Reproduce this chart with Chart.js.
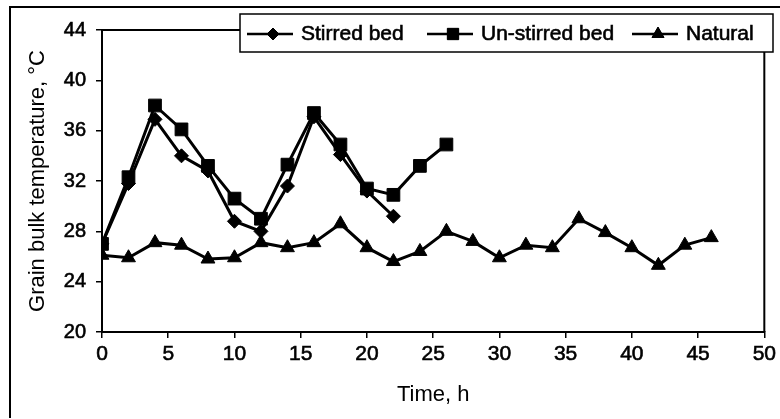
<!DOCTYPE html>
<html>
<head>
<meta charset="utf-8">
<script src="https://cdn.jsdelivr.net/npm/chart.js@4/dist/chart.umd.min.js"></script>
<style>
  html, body { margin: 0; padding: 0; background: #fff; }
  #wrap { width: 780px; height: 419px; }
</style>
</head>
<body>
<div id="wrap"><canvas id="grainChart" width="780" height="419"></canvas></div>
<script>
// time in hours
var stirredTime = [0, 2, 4, 6, 8, 10, 12, 14, 16, 18, 20, 22];
var stirredTemp = [27.0, 31.8, 36.9, 34.0, 32.8, 28.8, 28.0, 31.6, 37.1, 34.1, 31.2, 29.2];

var unstirredTime = [0, 2, 4, 6, 8, 10, 12, 14, 16, 18, 20, 22, 24, 26];
var unstirredTemp = [27.0, 32.3, 38.0, 36.1, 33.2, 30.6, 29.0, 33.3, 37.4, 34.9, 31.4, 30.9, 33.2, 34.9];

var naturalTime = [0, 2, 4, 6, 8, 10, 12, 14, 16, 18, 20, 22, 24, 26, 28, 30, 32, 34, 36, 38, 40, 42, 44, 46];
var naturalTemp = [26.1, 25.9, 27.1, 26.9, 25.8, 25.9, 27.1, 26.7, 27.1, 28.6, 26.7, 25.6, 26.4, 28.0,
                   27.2, 25.9, 26.9, 26.7, 29.0, 27.9, 26.7, 25.3, 26.9, 27.5];

var xTicks = [0, 5, 10, 15, 20, 25, 30, 35, 40, 45, 50];
var yTicks = [20, 24, 28, 32, 36, 40, 44];

var seriesNames = ['Stirred bed', 'Un-stirred bed', 'Natural'];
var seriesMarkers = ['rectRot', 'rect', 'triangle'];
var markerSizes = [7, 9, 8];

function toPoints(xs, ys) {
    var pts = [];
    for (var i = 0; i < xs.length; i++) {
        pts.push({ x: xs[i], y: ys[i] });
    }
    return pts;
}

var FONT = "'Liberation Sans', Arial, sans-serif";

function makeSet(idx, xs, ys) {
    return {
        label: seriesNames[idx],
        data: toPoints(xs, ys),
        showLine: true,
        borderColor: '#000',
        backgroundColor: '#000',
        borderWidth: 3,
        pointStyle: seriesMarkers[idx],
        pointRadius: markerSizes[idx],
        pointBorderWidth: 1,
        tension: 0
    };
}

// frame around figure, box around plot, hand-made legend
var framePlugin = {
    id: 'frame',
    beforeDraw: function(chart) {
        var ctx = chart.ctx;
        ctx.save();
        ctx.fillStyle = '#fff';
        ctx.fillRect(0, 0, chart.width, chart.height);
        ctx.strokeStyle = '#000';
        ctx.lineWidth = 2;
        ctx.beginPath();
        ctx.moveTo(10, 418);
        ctx.lineTo(10, 7);
        ctx.lineTo(780, 7);
        ctx.stroke();
        ctx.restore();
    },
    afterDraw: function(chart) {
        var ctx = chart.ctx;
        var a = chart.chartArea;
        ctx.save();
        ctx.strokeStyle = '#000';
        ctx.lineWidth = 2;
        ctx.beginPath();
        ctx.moveTo(a.left, a.top);
        ctx.lineTo(a.right, a.top);
        ctx.lineTo(a.right, a.bottom);
        ctx.stroke();

        // legend box
        var bx = 240, by = 14, bw = 533, bh = 38;
        ctx.fillStyle = '#fff';
        ctx.fillRect(bx, by, bw, bh);
        ctx.lineWidth = 1.5;
        ctx.strokeRect(bx, by, bw, bh);

        var starts = [247, 427, 632];
        var cy = by + bh / 2 + 1;
        ctx.font = '21px ' + FONT;
        ctx.textBaseline = 'middle';
        ctx.fillStyle = '#000';
        ctx.strokeStyle = '#000';
        for (var i = 0; i < seriesNames.length; i++) {
            var sx = starts[i];
            ctx.lineWidth = 2.5;
            ctx.beginPath();
            ctx.moveTo(sx, cy);
            ctx.lineTo(sx + 46, cy);
            ctx.stroke();
            ctx.lineWidth = 1;
            Chart.helpers.drawPoint(ctx, {
                pointStyle: seriesMarkers[i],
                radius: markerSizes[i] - 1,
                borderWidth: 1
            }, sx + 26, cy);
            ctx.fill();
            ctx.lineWidth = 0.6;
            ctx.fillText(seriesNames[i], sx + 54, cy);
            ctx.strokeText(seriesNames[i], sx + 54, cy);
        }
        ctx.restore();
    }
};

var tickFont = { family: FONT, size: 21 };
var titleFont = { family: FONT, size: 22 };

var chartGrain = new Chart(document.getElementById('grainChart'), {
    type: 'scatter',
    data: {
        datasets: [
            makeSet(0, stirredTime, stirredTemp),
            makeSet(1, unstirredTime, unstirredTemp),
            makeSet(2, naturalTime, naturalTemp)
        ]
    },
    options: {
        responsive: false,
        animation: false,
        layout: { padding: { left: 10, top: 30, right: 12, bottom: 0 } },
        plugins: {
            legend: { display: false },
            tooltip: { enabled: false }
        },
        scales: {
            x: {
                type: 'linear',
                min: 0,
                max: 50,
                afterBuildTicks: function(scale) {
                    scale.ticks = xTicks.map(function(v) { return { value: v }; });
                },
                afterFit: function(scale) { scale.height = 87; },
                grid: { drawOnChartArea: false, drawTicks: true, tickLength: 6, color: '#000', lineWidth: 1.5 },
                border: { display: true, color: '#000', width: 2 },
                ticks: { color: '#000', font: tickFont, padding: 4, maxRotation: 0,
                         textStrokeColor: '#000', textStrokeWidth: 0.6 },
                title: {
                    display: true,
                    text: 'Time, h',
                    color: '#000',
                    font: titleFont,
                    padding: { top: 0, bottom: 11 }
                }
            },
            y: {
                type: 'linear',
                min: 20,
                max: 44,
                afterBuildTicks: function(scale) {
                    scale.ticks = yTicks.map(function(v) { return { value: v }; });
                },
                afterFit: function(scale) { scale.width = 92; },
                grid: { drawOnChartArea: false, drawTicks: true, tickLength: 6, color: '#000', lineWidth: 1.5 },
                border: { display: true, color: '#000', width: 2 },
                ticks: { color: '#000', font: { family: FONT, size: 20 }, padding: 10,
                         textStrokeColor: '#000', textStrokeWidth: 0.6 },
                title: {
                    display: true,
                    text: 'Grain bulk temperature, °C',
                    color: '#000',
                    font: titleFont,
                    padding: { top: 15, bottom: 0 }
                }
            }
        }
    },
    plugins: [framePlugin]
});
</script>
</body>
</html>
